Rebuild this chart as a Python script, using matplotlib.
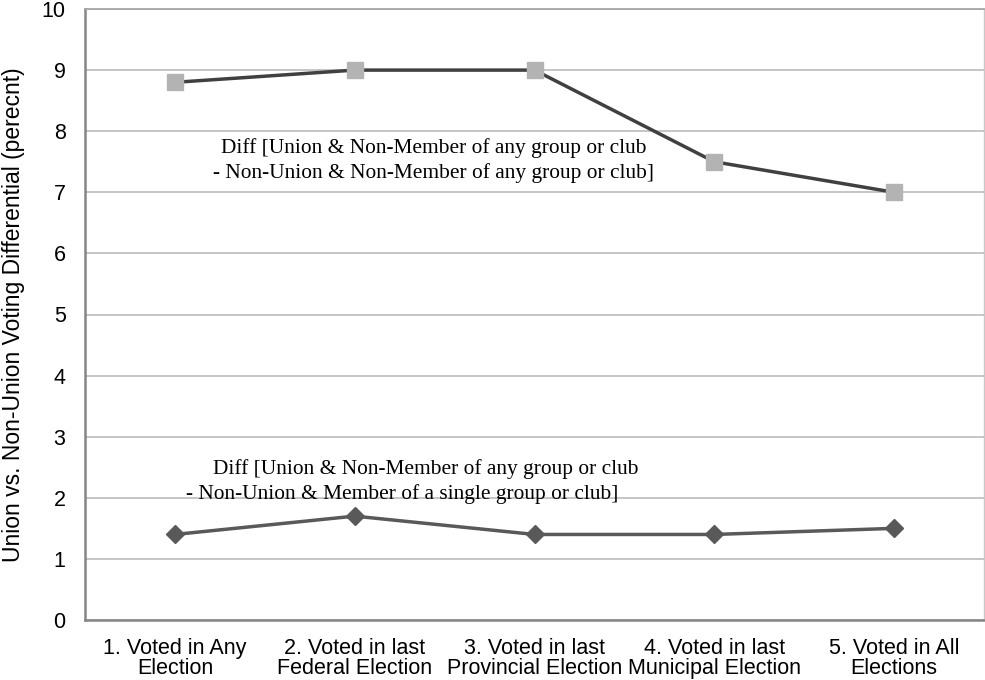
import matplotlib
matplotlib.use("Agg")
import matplotlib.pyplot as plt

categories = [
    "1. Voted in Any\nElection",
    "2. Voted in last\nFederal Election",
    "3. Voted in last\nProvincial Election",
    "4. Voted in last\nMunicipal Election",
    "5. Voted in All\nElections",
]
diff_nonmember = [8.8, 9.0, 9.0, 7.5, 7.0]
diff_single_member = [1.4, 1.7, 1.4, 1.4, 1.5]
y_ticks = list(range(0, 11))

label_nonmember = ["Diff [Union & Non-Member of any group or club",
                   "- Non-Union & Non-Member of any group or club]"]
label_single = ["Diff [Union & Non-Member of any group or club",
                "- Non-Union & Member of a single group or club]"]

plt.rcParams["font.family"] = ["Liberation Sans", "DejaVu Sans"]
serif = ["Liberation Serif", "DejaVu Serif"]

fig = plt.figure(figsize=(9.85, 6.8), dpi=100)
ax = fig.add_axes([85 / 985, 60 / 680, 899 / 985, 611 / 680])

x = list(range(len(categories)))
ax.plot(x, diff_nonmember, color="#404040", lw=2.5, marker="s", ms=11,
        mfc="#b3b3b3", mec="#b3b3b3", zorder=3)
ax.plot(x, diff_single_member, color="#595959", lw=2.5, marker="D", ms=9.5,
        mfc="#595959", mec="#595959", zorder=3)

ax.set_xlim(-0.5, len(categories) - 0.5)
ax.set_ylim(0, 10)
ax.set_yticks(y_ticks)
ax.set_xticks(x)
ax.set_xticklabels(categories, fontsize=15.5, linespacing=0.95)
ax.tick_params(axis="y", labelsize=15.5, length=0, pad=14)
ax.tick_params(axis="x", length=0, pad=13)
ax.yaxis.grid(True, color="#c0c0c0", lw=1.3)
ax.set_axisbelow(True)

for side in ["left", "bottom"]:
    ax.spines[side].set_color("#868686")
    ax.spines[side].set_linewidth(1.8)
ax.spines["top"].set_color("#a6a6a6")
ax.spines["top"].set_linewidth(1.3)
ax.spines["right"].set_color("#c8c8c8")
ax.spines["right"].set_linewidth(1.0)

ax.set_ylabel("Union vs. Non-Union Voting Differential (perecnt)",
              fontsize=16.5, labelpad=12)

# Annotations for each series, one text per line
ax.text(1.44, 7.73, label_nonmember[0], ha="center", va="center",
        fontsize=15.4, family=serif)
ax.text(1.44, 7.32, label_nonmember[1], ha="center", va="center",
        fontsize=15.4, family=serif)
ax.text(0.21, 2.47, label_single[0], ha="left", va="center",
        fontsize=15.4, family=serif)
ax.text(0.06, 2.06, label_single[1], ha="left", va="center",
        fontsize=15.4, family=serif)

fig.savefig("out.png", dpi=100)
